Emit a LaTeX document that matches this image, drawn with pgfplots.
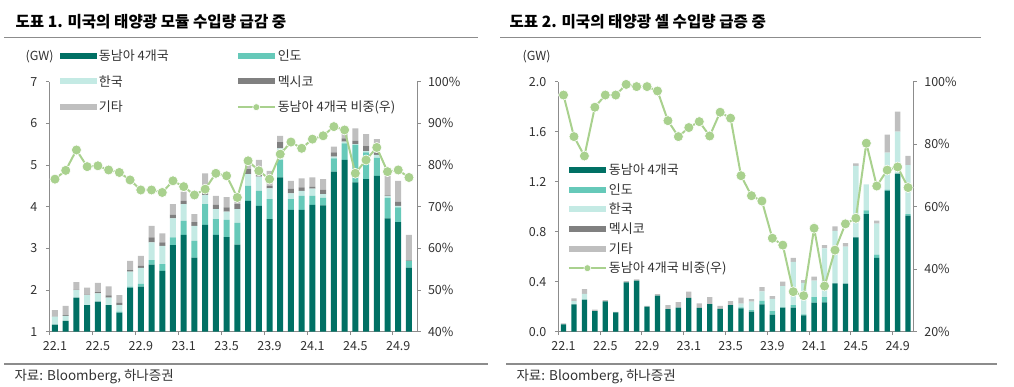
\documentclass[border=0pt]{standalone}
\usepackage{pgfplots}
\usepackage{pgfplotstable}
\pgfplotsset{compat=1.18}
\usepackage{fontspec}
\setmainfont{Noto Sans CJK KR}

\definecolor{cSEA}{RGB}{0,112,100}
\definecolor{cIND}{RGB}{102,201,185}
\definecolor{cKOR}{RGB}{196,234,228}
\definecolor{cMEX}{RGB}{128,128,128}
\definecolor{cOTH}{RGB}{191,191,191}
\definecolor{cLINE}{RGB}{169,209,142}
\definecolor{cAX}{RGB}{140,140,140}
\definecolor{cTXT}{RGB}{50,50,50}
\definecolor{cRULE}{RGB}{140,140,140}

\pgfplotstableread{
x sea ind kor mex oth pct
1 1.17 0 0.19 0.01 0.15 76.6
2 1.26 0 0.12 0.02 0.22 78.7
3 1.82 0 0.18 0.01 0.18 83.6
4 1.64 0 0.24 0.01 0.17 79.6
5 1.72 0 0.20 0.03 0.22 79.8
6 1.64 0 0.18 0.05 0.22 78.8
7 1.46 0.02 0.16 0.06 0.18 78.2
8 2.06 0.02 0.36 0.04 0.22 76.4
9 2.08 0.07 0.38 0.05 0.24 74.0
10 2.61 0.11 0.42 0.12 0.28 74.0
11 2.46 0.16 0.44 0.08 0.22 73.4
12 3.08 0.18 0.46 0.09 0.25 76.2
13 3.32 0.34 0.40 0.08 0.22 74.8
14 2.78 0.40 0.36 0.09 0.19 72.8
15 3.56 0.50 0.22 0.06 0.46 74.2
16 3.32 0.38 0.24 0.10 0.22 78.0
17 3.27 0.41 0.20 0.10 0.25 77.4
18 3.09 0.52 0.33 0.12 0.22 72.2
19 4.14 0.36 0.28 0.12 0.21 81.0
20 4.02 0.36 0.34 0.06 0.34 78.6
21 3.70 0.48 0.26 0.06 0.36 76.6
22 4.70 0.42 0.28 0.15 0.15 82.6
23 3.92 0.26 0.14 0.11 0.19 85.5
24 3.92 0.34 0.12 0.08 0.22 84.0
25 4.04 0.22 0.17 0.05 0.22 86.2
26 4.03 0.18 0.09 0.10 0.26 87.0
27 4.84 0.32 0.04 0.10 0.14 89.2
28 5.12 0.40 0.04 0.08 0.10 88.4
29 4.58 0.90 0.02 0.08 0.30 78.0
30 4.66 0.64 0.03 0.12 0.29 81.2
31 4.74 0.43 0.07 0.05 0.33 84.2
32 3.72 0.49 0.04 0.02 0.48 78.4
33 3.63 0.35 0.04 0.10 0.50 78.8
34 2.54 0.16 0 0.01 0.61 77.0
}\modtab

\pgfplotstableread{
x sea ind kor mex oth pct
1 0.059 0 0 0 0.008 95.7
2 0.219 0 0.026 0 0.022 82.4
3 0.257 0 0.045 0 0.039 76.2
4 0.165 0 0 0 0.012 91.8
5 0.242 0 0 0 0.011 95.7
6 0.155 0 0 0 0.004 95.7
7 0.395 0 0 0 0.009 99.1
8 0.408 0 0 0 0.010 98.4
9 0.200 0 0 0 0.006 98.4
10 0.289 0 0 0 0.011 97.0
11 0.181 0 0 0 0.032 87.5
12 0.193 0 0 0 0.043 82.4
13 0.270 0 0 0 0.050 85.3
14 0.190 0 0 0 0.036 87.2
15 0.221 0 0 0 0.056 82.6
16 0.183 0 0 0 0.024 90.2
17 0.212 0 0 0 0.033 88.3
18 0.187 0.008 0.029 0 0.048 69.9
19 0.160 0.013 0.067 0 0.021 63.5
20 0.219 0.028 0.075 0 0.034 61.8
21 0.136 0.029 0.097 0 0.023 49.9
22 0.192 0.002 0.171 0 0.035 47.7
23 0.192 0.020 0.347 0 0.031 32.8
24 0.130 0.008 0.252 0 0.023 31.5
25 0.232 0.045 0.131 0 0.033 53.1
26 0.235 0.042 0.390 0 0.026 34.6
27 0.387 0 0.419 0 0.036 46.1
28 0.384 0 0.296 0 0.028 54.5
29 0.755 0 0.572 0 0.020 56.3
30 0.941 0.030 0.208 0 0 80.3
31 0.590 0.027 0.247 0 0.025 66.6
32 1.128 0.008 0.296 0 0.144 71.7
33 1.265 0 0.335 0 0.160 72.7
34 0.928 0.012 0.393 0 0.073 66.1
}\celltab

\pgfplotsset{
  lgbar/.style={legend image code/.code={\fill[##1] (0pt,-3pt) rectangle (37pt,3pt);}},
  lgline/.style={legend image code/.code={\draw[mark repeat=2,mark phase=2,##1,sharp plot,mark size=3.5pt] plot coordinates {(0pt,0pt) (18.5pt,0pt) (37pt,0pt)};}},
  lnstyle/.style={cLINE, line width=2pt, mark=*, mark size=5pt, mark options={fill=cLINE, draw=white, line width=0.6pt, solid}},
  cmn/.style={
    scale only axis, height=250.1pt,
    axis line style={draw=cAX, line width=0.75pt},
    tick style={draw=cAX, line width=0.75pt},
    tick align=outside, major tick length=3.5pt,
    ticklabel style={font=\fontsize{12.5}{14}\selectfont, text=cTXT},
    /pgf/number format/assume math mode=true,
  },
  xstyle/.style={
    xtick={0.5,4.5,8.5,12.5,16.5,20.5,24.5,28.5,32.5}, xticklabels={},
    extra x ticks={1,5,9,13,17,21,25,29,33},
    extra x tick labels={22.1,22.5,22.9,23.1,23.5,23.9,24.1,24.5,24.9},
    extra x tick style={major tick length=0pt, xticklabel style={yshift=-6pt}},
    yticklabel style={xshift=-5pt},
  },
  rstyle/.style={yticklabel style={xshift=4pt}},
}

\begin{document}
\begin{tikzpicture}
% ---------------- left panel ----------------
\node[anchor=west, font=\fontsize{15.6}{18}\selectfont\bfseries, text=black] at (12pt,-22pt) {도표 1. 미국의 태양광 모듈 수입량 급감 중};
\draw[cRULE, line width=1.6pt] (4pt,-37.7pt) -- (478pt,-37.7pt);
\node[anchor=west, font=\fontsize{12.5}{14}\selectfont, text=cTXT] at (22pt,-57pt) {(GW)};

\begin{axis}[cmn, xstyle, at={(49.3pt,-331.7pt)}, anchor=south west, width=367.7pt,
  xmin=0.47, xmax=34.75,
  ybar stacked, bar width=6pt,
  ymin=1, ymax=7, ytick={1,2,3,4,5,6,7},
  axis x line*=bottom, axis y line*=left,
  legend columns=2, legend cell align=left,
  legend style={at={(0.02,1.145)}, anchor=north west, draw=none, fill=none,
    font=\fontsize{13}{15}\selectfont, text=cTXT,
    /tikz/every even column/.append style={column sep=66pt},
    row sep=9.5pt},
]
\addplot[fill=cSEA, draw=none, lgbar] table[x=x,y=sea]{\modtab};
\addlegendentry{동남아 4개국}
\addplot[fill=cIND, draw=none, lgbar] table[x=x,y=ind]{\modtab};
\addlegendentry{인도}
\addplot[fill=cKOR, draw=none, lgbar] table[x=x,y=kor]{\modtab};
\addlegendentry{한국}
\addplot[fill=cMEX, draw=none, lgbar] table[x=x,y=mex]{\modtab};
\addlegendentry{멕시코}
\addplot[fill=cOTH, draw=none, lgbar] table[x=x,y=oth]{\modtab};
\addlegendentry{기타}
\addlegendimage{lnstyle, lgline}
\addlegendentry{동남아 4개국 비중(우)}
\end{axis}

\begin{axis}[cmn, rstyle, at={(49.3pt,-331.7pt)}, anchor=south west, width=367.7pt,
  xmin=0.47, xmax=34.75,
  ymin=40, ymax=100, ytick={40,50,60,70,80,90,100},
  axis y line*=right, axis x line=none,
  yticklabel={\pgfmathprintnumber{\tick}\%},
  clip=false]
\addplot[lnstyle] table[x=x,y=pct]{\modtab};
\end{axis}

\draw[cRULE, line width=1.6pt] (4pt,-364pt) -- (488pt,-364pt);
\node[anchor=west, font=\fontsize{13.5}{15}\selectfont, text=cTXT] at (11pt,-377pt) {자료: Bloomberg, 하나증권};

% ---------------- right panel ----------------
\node[anchor=west, font=\fontsize{15.6}{18}\selectfont\bfseries, text=black] at (506pt,-22pt) {도표 2. 미국의 태양광 셀 수입량 급증 중};
\draw[cRULE, line width=1.6pt] (500pt,-37.7pt) -- (981pt,-37.7pt);
\node[anchor=west, font=\fontsize{12.5}{14}\selectfont, text=cTXT] at (519pt,-57pt) {(GW)};

\begin{axis}[cmn, xstyle, at={(558.3pt,-331.7pt)}, anchor=south west, width=355pt,
  xmin=0.5, xmax=34.5,
  ybar stacked, bar width=5.3pt,
  ymin=0, ymax=2, ytick={0,0.4,0.8,1.2,1.6,2.0},
  yticklabel style={/pgf/number format/.cd, fixed, fixed zerofill, precision=1},
  axis x line*=bottom, axis y line*=left,
  legend columns=1, legend cell align=left,
  legend style={at={(0.018,0.688)}, anchor=north west, draw=none, fill=none,
    font=\fontsize{13}{15}\selectfont, text=cTXT, row sep=3.4pt},
]
\addplot[fill=cSEA, draw=none, lgbar] table[x=x,y=sea]{\celltab};
\addlegendentry{동남아 4개국}
\addplot[fill=cIND, draw=none, lgbar] table[x=x,y=ind]{\celltab};
\addlegendentry{인도}
\addplot[fill=cKOR, draw=none, lgbar] table[x=x,y=kor]{\celltab};
\addlegendentry{한국}
\addplot[fill=cMEX, draw=none, lgbar] table[x=x,y=mex]{\celltab};
\addlegendentry{멕시코}
\addplot[fill=cOTH, draw=none, lgbar] table[x=x,y=oth]{\celltab};
\addlegendentry{기타}
\addlegendimage{lnstyle, lgline}
\addlegendentry{동남아 4개국 비중(우)}
\end{axis}

\begin{axis}[cmn, rstyle, at={(558.3pt,-331.7pt)}, anchor=south west, width=355pt,
  xmin=0.5, xmax=34.5,
  ymin=20, ymax=100, ytick={20,40,60,80,100},
  axis y line*=right, axis x line=none,
  yticklabel={\pgfmathprintnumber{\tick}\%},
  clip=false]
\addplot[lnstyle] table[x=x,y=pct]{\celltab};
\end{axis}

\draw[cRULE, line width=1.6pt] (506pt,-364pt) -- (997pt,-364pt);
\node[anchor=west, font=\fontsize{13.5}{15}\selectfont, text=cTXT] at (513pt,-377pt) {자료: Bloomberg, 하나증권};

\pgfresetboundingbox
\path[use as bounding box] (0pt,0pt) rectangle (1014pt,-387pt);
\end{tikzpicture}
\end{document}
